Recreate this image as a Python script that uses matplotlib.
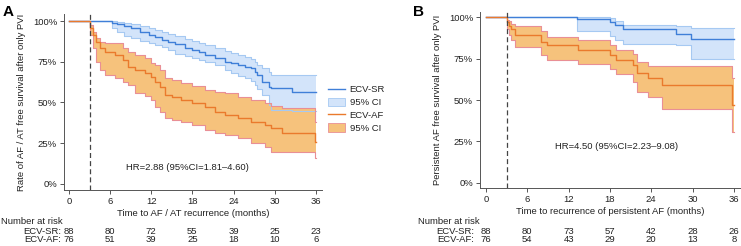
import numpy as np
import matplotlib
matplotlib.use('Agg')
import matplotlib.pyplot as plt
from matplotlib.lines import Line2D
from matplotlib.patches import Patch
import matplotlib.transforms as mtrans

plt.rcParams['font.family'] = ['Liberation Sans', 'DejaVu Sans']

# ---- panel A : AF / AT recurrence ----
a_sr_t  = [0, 6.2, 7.0, 8.0, 9.1, 10.3, 11.6, 12.5, 13.5, 14.5, 15.5, 16.9, 17.9, 18.9, 19.8, 21.3,
           22.7, 23.7, 24.7, 25.7, 26.6, 27.1, 27.4, 28.1, 29.1, 29.5, 32.5, 36]
a_sr_s  = [1.0, 0.99, 0.98, 0.97, 0.955, 0.935, 0.914, 0.90, 0.883, 0.87, 0.857, 0.832, 0.82, 0.812,
           0.791, 0.771, 0.75, 0.74, 0.73, 0.72, 0.71, 0.69, 0.669, 0.628, 0.597, 0.59, 0.565, 0.565]
a_sr_lo = [1.0, 0.955, 0.935, 0.91, 0.894, 0.88, 0.863, 0.85, 0.84, 0.82, 0.80, 0.785, 0.77, 0.761,
           0.75, 0.73, 0.70, 0.679, 0.66, 0.648, 0.63, 0.607, 0.58, 0.546, 0.485, 0.452, 0.447, 0.447]
a_sr_hi = [1.0, 1.0, 0.995, 0.99, 0.98, 0.97, 0.955, 0.945, 0.93, 0.918, 0.905, 0.89, 0.875, 0.863,
           0.85, 0.832, 0.815, 0.802, 0.79, 0.781, 0.765, 0.75, 0.73, 0.71, 0.69, 0.669, 0.669, 0.669]

a_af_t  = [0, 3.0, 3.5, 4.0, 4.5, 5.2, 6.7, 7.9, 8.6, 9.6, 11.1, 12.0, 12.5, 13.3, 14.0, 15.0, 16.4,
           17.9, 19.8, 21.3, 22.7, 24.7, 26.6, 28.6, 29.5, 31.0, 35.85, 36]
a_af_s  = [1.0, 0.955, 0.914, 0.873, 0.832, 0.812, 0.791, 0.761, 0.72, 0.70, 0.679, 0.658, 0.628,
           0.597, 0.546, 0.536, 0.515, 0.495, 0.474, 0.444, 0.423, 0.403, 0.382, 0.362, 0.342, 0.311,
           0.26, 0.26]
a_af_lo = [1.0, 0.914, 0.832, 0.75, 0.70, 0.67, 0.648, 0.625, 0.607, 0.56, 0.54, 0.515, 0.474, 0.444,
           0.403, 0.39, 0.38, 0.362, 0.331, 0.31, 0.30, 0.28, 0.25, 0.229, 0.198, 0.198, 0.157, 0.157]
a_af_hi = [1.0, 0.975, 0.935, 0.894, 0.873, 0.863, 0.863, 0.832, 0.81, 0.79, 0.77, 0.745, 0.73, 0.70,
           0.65, 0.638, 0.618, 0.60, 0.577, 0.565, 0.556, 0.536, 0.515, 0.495, 0.48, 0.464, 0.38, 0.38]

# ---- panel B : persistent AF ----
b_sr_t  = [0, 13.2, 18.0, 18.7, 19.9, 27.6, 29.8, 36]
b_sr_s  = [1.0, 0.988, 0.971, 0.951, 0.93, 0.90, 0.867, 0.867]
b_sr_lo = [1.0, 0.92, 0.885, 0.865, 0.84, 0.83, 0.75, 0.75]
b_sr_hi = [1.0, 1.0, 0.995, 0.98, 0.955, 0.95, 0.935, 0.935]

b_af_t  = [0, 3.1, 3.4, 3.7, 4.2, 8.0, 8.8, 13.4, 18.0, 18.9, 21.4, 21.9, 23.6, 25.5, 35.7, 36]
b_af_s  = [1.0, 0.97, 0.95, 0.93, 0.895, 0.853, 0.833, 0.80, 0.772, 0.742, 0.712, 0.661, 0.631,
           0.591, 0.47, 0.47]
b_af_lo = [1.0, 0.93, 0.89, 0.86, 0.82, 0.77, 0.74, 0.715, 0.69, 0.66, 0.61, 0.55, 0.518, 0.447,
           0.308, 0.308]
b_af_hi = [1.0, 0.985, 0.975, 0.96, 0.945, 0.92, 0.88, 0.86, 0.83, 0.80, 0.78, 0.73, 0.705, 0.705,
           0.63, 0.63]

xticks = [0, 6, 12, 18, 24, 30, 36]
yticks = [0, 0.25, 0.5, 0.75, 1.0]
ytick_labels = ['0%', '25%', '50%', '75%', '100%']
risk_a_sr = [88, 80, 72, 55, 39, 25, 23]
risk_a_af = [76, 51, 39, 25, 18, 10, 6]
risk_b_sr = [88, 80, 73, 57, 42, 28, 26]
risk_b_af = [76, 54, 43, 29, 20, 13, 8]

BLUE, BLUE_F, BLUE_E = '#3f7fd8', '#d3e4fa', '#a6c9f2'
ORNG, ORNG_F, ORNG_E = '#ea7a2c', '#f6c27c', '#e98f95'
TXT = '#222222'
FS = 6.8


def km(ax, t, s, lo, hi, lc, fc, ec):
    ax.fill_between(t, lo, hi, step='post', facecolor=fc, edgecolor='none', zorder=1)
    ax.step(t, lo, where='post', color=ec, lw=0.8, zorder=2)
    ax.step(t, hi, where='post', color=ec, lw=0.8, zorder=2)
    ax.step(t, s, where='post', color=lc, lw=1.0, zorder=3)


def panel(fig, rect, xlim, ylim, ylabel, xlabel, hr, hrpos, groups, risks, letter, letter_x,
          nr_x, lab_x):
    ax = fig.add_axes(rect)
    for g in groups:
        km(ax, *g)
    ax.axvline(3, color='#444444', lw=0.9, ls=(0, (4, 2.5)), zorder=4)
    ax.set_xlim(*xlim); ax.set_ylim(*ylim)
    ax.set_xticks(xticks); ax.set_yticks(yticks); ax.set_yticklabels(ytick_labels)
    for sp in ('top', 'right'):
        ax.spines[sp].set_visible(False)
    for sp in ('left', 'bottom'):
        ax.spines[sp].set_color('#555555'); ax.spines[sp].set_linewidth(0.7)
    ax.tick_params(labelsize=FS, colors='#555555', labelcolor=TXT, length=3, width=0.7, pad=2)
    ax.set_ylabel(ylabel, fontsize=FS, color=TXT, labelpad=5)
    ax.set_xlabel(xlabel, fontsize=FS, color=TXT, labelpad=2)
    ax.text(hrpos[0], hrpos[1], hr, fontsize=FS, color=TXT, ha='center', va='center')
    fig.text(letter_x, 1 - 12 / 246, letter, fontsize=11, fontweight='bold', va='center')
    tr = mtrans.blended_transform_factory(ax.transData, fig.transFigure)
    fig.text(nr_x, 1 - 221 / 246, 'Number at risk', fontsize=FS, color=TXT, va='center')
    for yp, name, vals in [(231, 'ECV-SR:', risks[0]), (240, 'ECV-AF:', risks[1])]:
        fig.text(lab_x, 1 - yp / 246, name, fontsize=FS, color=TXT, ha='right', va='center')
        for x, v in zip(xticks, vals):
            ax.text(x, 1 - yp / 246, str(v), transform=tr, fontsize=FS, color=TXT,
                    ha='center', va='center')
    return ax


fig = plt.figure(figsize=(7.41, 2.46), dpi=100)

axA = panel(fig, [64 / 741, 56 / 246, 258 / 741, 176 / 246], (-0.73, 36.9), (-0.037, 1.043),
            'Rate of AF / AT free survival after only PVI', 'Time to AF / AT recurrence (months)',
            'HR=2.88 (95%CI=1.81\u20134.60)', (17.3, 0.098),
            [(a_sr_t, a_sr_s, a_sr_lo, a_sr_hi, BLUE, BLUE_F, BLUE_E),
             (a_af_t, a_af_s, a_af_lo, a_af_hi, ORNG, ORNG_F, ORNG_E)],
            (risk_a_sr, risk_a_af), 'A', 3 / 741, 1 / 741, 61 / 741)

axB = panel(fig, [480 / 741, 58 / 246, 260 / 741, 176 / 246], (-0.87, 36.9), (-0.032, 1.032),
            'Persistent AF free survival after only PVI',
            'Time to recurrence of persistent AF (months)',
            'HR=4.50 (95%CI=2.23\u20139.08)', (18.9, 0.216),
            [(b_sr_t, b_sr_s, b_sr_lo, b_sr_hi, BLUE, BLUE_F, BLUE_E),
             (b_af_t, b_af_s, b_af_lo, b_af_hi, ORNG, ORNG_F, ORNG_E)],
            (risk_b_sr, risk_b_af), 'B', 413 / 741, 418 / 741, 474 / 741)

handles = [Line2D([], [], color=BLUE, lw=1.0),
           Patch(facecolor=BLUE_F, edgecolor=BLUE_E, lw=0.6),
           Line2D([], [], color=ORNG, lw=1.0),
           Patch(facecolor=ORNG_F, edgecolor=ORNG_E, lw=0.6)]
labels = ['ECV-SR', '95% CI', 'ECV-AF', '95% CI']
fig.legend(handles, labels, loc='upper left', bbox_to_anchor=(328 / 741, 1 - 85 / 246),
           frameon=False, fontsize=FS, handlelength=1.8, handleheight=1.0, handletextpad=0.5,
           labelspacing=0.35, borderpad=0, borderaxespad=0, labelcolor=TXT)

fig.savefig('out.png', dpi=100)
